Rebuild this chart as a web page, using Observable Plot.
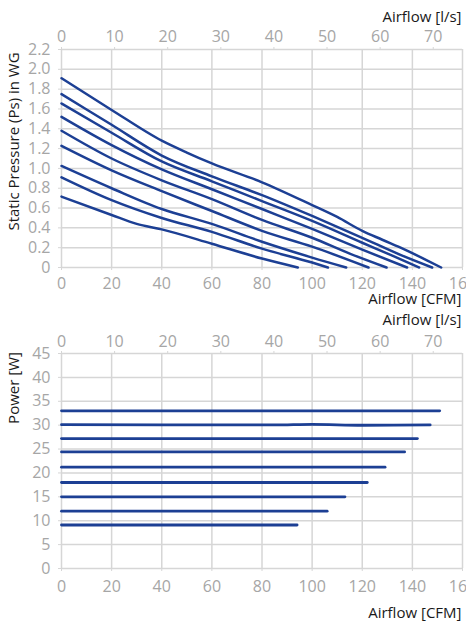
<!DOCTYPE html>
<html>
<head>
<meta charset="utf-8">
<script src="https://cdn.jsdelivr.net/npm/d3@7"></script>
<script src="https://cdn.jsdelivr.net/npm/@observablehq/plot@0.6"></script>
<style>
  html, body { margin: 0; padding: 0; background: #ffffff; }
  #chart { width: 466px; }
  #chart svg { display: block; }
</style>
</head>
<body>
<div id="chart"></div>
<script>
// ---- Axis ticks ----
const cfmTicks = [0, 20, 40, 60, 80, 100, 120, 140, 160];
const lsTicks = [0, 10, 20, 30, 40, 50, 60, 70];
const CFM_PER_LS = 2.11888;
const pressureTicks = [0, 0.2, 0.4, 0.6, 0.8, 1.0, 1.2, 1.4, 1.6, 1.8, 2.0, 2.2];
const powerTicks = [0, 5, 10, 15, 20, 25, 30, 35, 40, 45];

// ---- Static pressure curves [CFM, in WG], one per speed step ----
const pressure1 = [[0,1.91],[20,1.59],[40,1.28],[50,1.16],[60,1.05],[80,0.86],[100,0.63],[110,0.51],[120,0.37],[128,0.28],[137,0.18],[146,0.07],[151.5,0]];
const pressure2 = [[0,1.75],[20,1.44],[40,1.13],[60,0.92],[80,0.73],[100,0.52],[120,0.30],[135,0.13],[147.9,0]];
const pressure3 = [[0,1.655],[20,1.36],[40,1.07],[60,0.87],[80,0.67],[100,0.47],[120,0.25],[132,0.12],[142.7,0]];
const pressure4 = [[0,1.52],[20,1.235],[40,0.99],[60,0.79],[80,0.59],[100,0.39],[120,0.18],[137.9,0]];
const pressure5 = [[0,1.38],[20,1.10],[40,0.88],[60,0.69],[80,0.48],[100,0.30],[115,0.14],[129.7,0]];
const pressure6 = [[0,1.227],[20,0.98],[40,0.77],[60,0.57],[80,0.37],[100,0.21],[122.5,0]];
const pressure7 = [[0,1.025],[20,0.80],[40,0.59],[60,0.44],[80,0.26],[100,0.10],[113.6,0]];
const pressure8 = [[0,0.91],[20,0.68],[40,0.50],[60,0.36],[80,0.19],[100,0.05],[106.3,0]];
const pressure9 = [[0,0.715],[20,0.53],[30,0.44],[40,0.385],[60,0.24],[80,0.09],[94.3,0]];
const pressureCurves = [pressure1, pressure2, pressure3, pressure4, pressure5, pressure6, pressure7, pressure8, pressure9];

// ---- Power curves [CFM, W] ----
const power1 = [[0,33.0],[150.9,33.0]];
const power2 = [[0,30.1],[85,30.05],[100,30.18],[120,29.98],[147.1,30.05]];
const power3 = [[0,27.2],[142,27.2]];
const power4 = [[0,24.4],[136.9,24.4]];
const power5 = [[0,21.2],[129.1,21.2]];
const power6 = [[0,18.0],[122,18.0]];
const power7 = [[0,15.0],[113.1,15.0]];
const power8 = [[0,12.0],[106,12.0]];
const power9 = [[0,9.1],[94,9.1]];
const powerCurves = [power1, power2, power3, power4, power5, power6, power7, power8, power9];

// ---- Build tables ----
const toRows = (curves) => curves.flatMap((c, i) => c.map(([x, y]) => ({x, y, s: i})));
const pressureRows = toRows(pressureCurves);
const powerRows = toRows(powerCurves);

const LINE = "#1c3f94";
const GRID = "#d6d6d6";
const TICK = "#a6a6a6";
const TITLE = "#1a1a1a";
const FONT = "'Open Sans', sans-serif";

function chart({height, marginTop, marginBottom, yDomain, yTicks, yFormat, rows, yLabel, yLabelDy,
                topPad, bottomPad, topTitleDy, bottomTitleDy, lineWidth}) {
  return Plot.plot({
    width: 466,
    height,
    marginTop,
    marginBottom,
    marginLeft: 61,
    marginRight: 4,
    style: {fontFamily: FONT, fontSize: "16px", background: "#ffffff", color: TICK},
    x: {domain: [0, 160]},
    y: {domain: yDomain},
    marks: [
      Plot.gridX(cfmTicks, {stroke: GRID, strokeOpacity: 1, strokeWidth: 1.5}),
      Plot.gridY(yTicks, {stroke: GRID, strokeOpacity: 1, strokeWidth: 1.5}),
      Plot.axisX(cfmTicks, {anchor: "bottom", tickSize: 3, tickPadding: bottomPad, label: null,
        stroke: GRID, fill: TICK, fontSize: 16}),
      Plot.axisX(lsTicks.map(v => v * CFM_PER_LS), {anchor: "top", tickSize: 3, tickPadding: topPad, label: null,
        tickFormat: v => String(Math.round(v / CFM_PER_LS)), stroke: GRID, fill: TICK, fontSize: 16}),
      Plot.axisY(yTicks, {anchor: "left", tickSize: 3, tickPadding: 8, label: null,
        tickFormat: yFormat, stroke: GRID, fill: TICK, fontSize: 16}),
      Plot.line(rows, {x: "x", y: "y", z: "s", stroke: LINE, strokeWidth: lineWidth, curve: "monotone-x"}),
      Plot.text(["Airflow [l/s]"], {frameAnchor: "top-right", text: d => d, textAnchor: "end",
        lineAnchor: "middle", dy: topTitleDy, dx: -1, fill: TITLE, fontSize: 15}),
      Plot.text(["Airflow [CFM]"], {frameAnchor: "bottom-right", text: d => d, textAnchor: "end",
        lineAnchor: "middle", dy: bottomTitleDy, dx: -1, fill: TITLE, fontSize: 15}),
      Plot.text([yLabel], {frameAnchor: "left", text: d => d, rotate: -90, textAnchor: "middle",
        lineAnchor: "middle", dx: -47, dy: yLabelDy, fill: TITLE, fontSize: 15})
    ]
  });
}

const pressureChart = chart({
  height: 310, marginTop: 49, marginBottom: 43,
  yDomain: [0, 2.2], yTicks: pressureTicks,
  yFormat: v => v === 0 ? "0" : v.toFixed(1),
  rows: pressureRows,
  yLabel: "Static Pressure (Ps) in WG", yLabelDy: -17,
  topPad: 5, bottomPad: 7, topTitleDy: -32, bottomTitleDy: 32, lineWidth: 2.5
});

const powerChart = chart({
  height: 315, marginTop: 43, marginBottom: 57,
  yDomain: [0, 45], yTicks: powerTicks,
  yFormat: v => String(v),
  rows: powerRows,
  yLabel: "Power [W]", yLabelDy: -73,
  topPad: 4, bottomPad: 9, topTitleDy: -33, bottomTitleDy: 45, lineWidth: 2.8
});

const root = document.getElementById("chart");
root.appendChild(pressureChart);
root.appendChild(powerChart);
</script>
</body>
</html>
